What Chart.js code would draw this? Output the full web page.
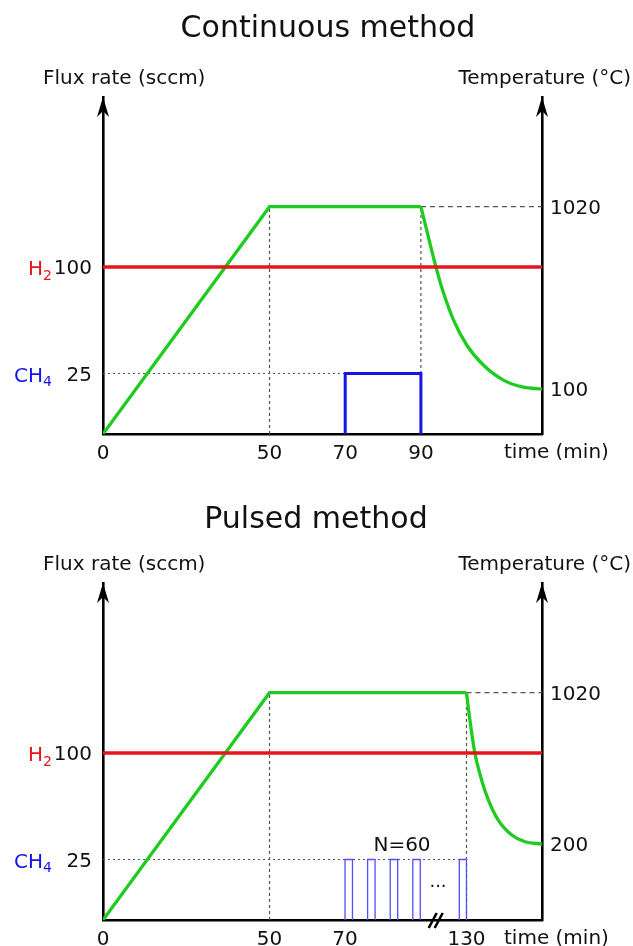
<!DOCTYPE html>
<html>
<head>
<meta charset="utf-8">
<script src="https://cdn.jsdelivr.net/npm/chart.js@4.4.1/dist/chart.umd.min.js"></script>
<style>
  html, body { margin: 0; padding: 0; background: #fff; }
  #wrap { position: relative; width: 633px; height: 946px; overflow: hidden; }
  .panel { position: absolute; left: 0; width: 633px; height: 460px; }
</style>
</head>
<body>
<div id="wrap">
  <div class="panel" style="top:0"><canvas id="contChart"></canvas></div>
  <div class="panel" style="top:486px"><canvas id="pulseChart"></canvas></div>
</div>
<script>
// ---- data: continuous method ----
var contRampTime = [0, 50, 90];
var contRampTemp = [25, 1020, 1020];
var contCoolTime = [90, 94.0, 95.9, 98.6, 102.1, 106.5, 111.8, 117.1, 122];
var contCoolTemp = [1020, 714, 589, 449, 322, 221, 145, 109, 100];
var contCh4Time = [70, 70, 90, 90];
var contCh4Flow = [0, 25, 25, 0];
var contTimeTicks = [0, 50, 70, 90];
var contTempTicks = [100, 1020];

// ---- data: pulsed method ----
var pulseRampTime = [0, 50, 130];
var pulseRampTemp = [25, 1020, 1020];
var pulseCoolTime = [130, 130.9, 132.2, 134.0, 135.8, 138.4, 142.0, 145.5, 150];
var pulseCoolTemp = [1020, 872, 695, 547, 438, 330, 249, 212, 200];
var pulseOn = [70, 71, 72, 73, 129.67];   // CH4 pulses drawn (N=60, middle ones hidden by the break)
var pulseOff = [70.33, 71.33, 72.33, 73.33, 130];
var pulseBreak = [74, 128.6];
var pulseTimeTicks = [0, 50, 70, 130];
var pulseTempTicks = [200, 1020];

// ---- common ----
var fluxTicks = [25, 100];
var h2Flow = 100;
var ch4Flow = 25;

var FONT = '"DejaVu Sans", Verdana, sans-serif';
var INK = '#111';
var RED = '#e8141b', BLUE = '#1414ea', GREEN = '#1fcb1f', PULSE = '#5050f5', GUIDE = '#555';

// piecewise linear lookup in a knot table [[value, fraction], ...]
function interp(knots, v, a, b) {
  for (var i = 1; i < knots.length; i++) {
    var k0 = knots[i - 1], k1 = knots[i];
    if (v <= k1[a] || i === knots.length - 1) {
      var t = (v - k0[a]) / (k1[a] - k0[a]);
      return k0[b] + t * (k1[b] - k0[b]);
    }
  }
}

// schematic axis: linear scale whose value->pixel mapping is piecewise
class SegmentedScale extends Chart.LinearScale {
  static id = 'segmented';
  static defaults = {};
  getPixelForValue(value) {
    if (value === null || isNaN(value)) return NaN;
    return this.getPixelForDecimal(interp(this.options.knots, value, 0, 1));
  }
  getValueForPixel(pixel) {
    return interp(this.options.knots, this.getDecimalForPixel(pixel), 1, 0);
  }
}
Chart.register(SegmentedScale);

function seg(xs, ys, axis, color, width, dash) {
  return {
    data: xs.map(function (x, i) { return { x: x, y: ys[i] }; }),
    yAxisID: axis,
    borderColor: color,
    borderWidth: width,
    borderDash: dash || [],
    pointRadius: 0,
    fill: false,
    tension: 0
  };
}

function species(ctx, main, sub, color, py) {
  ctx.fillStyle = color;
  ctx.textAlign = 'right';
  ctx.textBaseline = 'alphabetic';
  ctx.font = '14px ' + FONT;
  var sw = ctx.measureText(sub).width;
  ctx.fillText(sub, 52, py + 12.5);
  ctx.font = '20px ' + FONT;
  ctx.fillText(main, 52 - sw, py + 8);
}

function sketchPlugin(title, tx, ty, extra) {
  return {
    id: 'sketch',
    afterDraw: function (chart) {
      var ctx = chart.ctx, a = chart.chartArea;
      var yF = chart.scales.flux;
      ctx.save();
      ctx.fillStyle = INK;
      ctx.textBaseline = 'alphabetic';
      ctx.font = '30px ' + FONT;
      ctx.textAlign = 'center';
      ctx.fillText(title, tx, ty);
      ctx.font = '20px ' + FONT;
      ctx.textAlign = 'left';
      ctx.fillText('Flux rate (sccm)', 43, 84);
      ctx.textAlign = 'right';
      ctx.fillText('Temperature (°C)', 631, 84);
      ctx.textAlign = 'left';
      ctx.fillText('time (min)', 504, 458);
      // arrow heads on both vertical axes
      ctx.fillStyle = '#000';
      [a.left, a.right].forEach(function (px) {
        ctx.beginPath();
        ctx.moveTo(px, a.top);
        ctx.lineTo(px - 6, a.top + 20);
        ctx.lineTo(px, a.top + 14);
        ctx.lineTo(px + 6, a.top + 20);
        ctx.closePath();
        ctx.fill();
      });
      species(ctx, 'H', '2', RED, yF.getPixelForValue(h2Flow));
      species(ctx, 'CH', '4', BLUE, yF.getPixelForValue(ch4Flow));
      if (extra) extra(chart, ctx);
      ctx.restore();
    }
  };
}

function makePanel(id, p) {
  var tickFont = { family: FONT, size: 20 };
  var tEnd = p.coolTime[p.coolTime.length - 1];
  var T0 = p.rampTemp[0];
  var hold = p.rampTime[2];
  var datasets = [
    seg([0, tEnd], [h2Flow, h2Flow], 'flux', RED, 3.3)
  ].concat(p.ch4Sets).concat([
    seg(p.rampTime, p.rampTemp, 'temp', GREEN, 3.3),
    Object.assign(seg(p.coolTime, p.coolTemp, 'temp', GREEN, 3.3), { cubicInterpolationMode: 'monotone' }),
    seg([p.rampTime[1], p.rampTime[1]], [T0, p.rampTemp[1]], 'temp', GUIDE, 1.2, [3, 3]),
    seg([hold, hold], [T0, p.rampTemp[2]], 'temp', GUIDE, 1.2, [3, 3]),
    seg([hold, tEnd], [p.rampTemp[2], p.rampTemp[2]], 'temp', GUIDE, 1.2, [5, 4]),
    seg([0, p.ch4GuideEnd], [ch4Flow, ch4Flow], 'flux', GUIDE, 1.2, [2, 3])
  ]);

  new Chart(document.getElementById(id), {
    type: 'line',
    data: { datasets: datasets },
    options: {
      animation: false,
      responsive: true,
      maintainAspectRatio: false,
      devicePixelRatio: 1,
      events: [],
      layout: { padding: { top: 97, left: 0, right: 0, bottom: 0 } },
      plugins: { legend: { display: false }, tooltip: { enabled: false } },
      scales: {
        x: {
          type: 'segmented', min: 0, max: tEnd, knots: p.xKnots,
          grid: { display: false, drawTicks: false },
          border: { display: true, color: '#000', width: 2.6 },
          ticks: { font: tickFont, color: INK, padding: 8, maxRotation: 0, autoSkip: false,
                   callback: function (v) { return String(v); } },
          afterBuildTicks: function (s) { s.ticks = p.timeTicks.map(function (v) { return { value: v }; }); },
          afterFit: function (s) { s.height = 26; }
        },
        flux: {
          type: 'segmented', position: 'left', min: 0, max: 220,
          knots: [[0, 0], [25, 0.1795], [100, 0.4955], [220, 1]],
          grid: { display: false, drawTicks: false },
          border: { display: true, color: '#000', width: 2.6 },
          ticks: { font: tickFont, color: INK, padding: 11, labelOffset: 2,
                   callback: function (v) { return String(v); } },
          afterBuildTicks: function (s) { s.ticks = fluxTicks.map(function (v) { return { value: v }; }); },
          afterFit: function (s) { s.width = 103; }
        },
        temp: {
          type: 'segmented', position: 'right', min: 25, max: 1600, knots: p.tKnots,
          grid: { display: false, drawTicks: false },
          border: { display: true, color: '#000', width: 2.6 },
          ticks: { font: tickFont, color: INK, padding: 8, labelOffset: 2,
                   callback: function (v) { return String(v); } },
          afterBuildTicks: function (s) { s.ticks = p.tempTicks.map(function (v) { return { value: v }; }); },
          afterFit: function (s) { s.width = 91; }
        }
      }
    },
    plugins: [sketchPlugin(p.title, p.titleX, p.titleY, p.extra)]
  });
}

// continuous panel
makePanel('contChart', {
  title: 'Continuous method', titleX: 328, titleY: 37,
  rampTime: contRampTime, rampTemp: contRampTemp,
  coolTime: contCoolTime, coolTemp: contCoolTemp,
  ch4Sets: [seg(contCh4Time, contCh4Flow, 'flux', BLUE, 3)],
  ch4GuideEnd: contCh4Time[0],
  timeTicks: contTimeTicks, tempTicks: contTempTicks,
  xKnots: [[0, 0], [50, 0.3793], [122, 1]],
  tKnots: [[25, 0], [100, 0.1335], [1020, 0.6745], [1600, 1]]
});

// pulsed panel
makePanel('pulseChart', {
  title: 'Pulsed method', titleX: 316, titleY: 42,
  rampTime: pulseRampTime, rampTemp: pulseRampTemp,
  coolTime: pulseCoolTime, coolTemp: pulseCoolTemp,
  ch4Sets: pulseOn.map(function (on, i) {
    return seg([on, on, pulseOff[i], pulseOff[i]], [0, ch4Flow, ch4Flow, 0], 'flux', PULSE, 1.3);
  }),
  ch4GuideEnd: pulseOff[pulseOff.length - 1],
  timeTicks: pulseTimeTicks, tempTicks: pulseTempTicks,
  xKnots: [[0, 0], [50, 0.3793], [70, 0.5513], [74, 0.7572], [128.6, 0.7585], [130, 0.828], [150, 1]],
  tKnots: [[25, 0], [200, 0.2255], [1020, 0.6745], [1600, 1]],
  extra: function (chart, ctx) {
    var x = chart.scales.x, a = chart.chartArea;
    ctx.fillStyle = INK;
    ctx.textAlign = 'center';
    ctx.font = '20px ' + FONT;
    ctx.fillText('N=60', 402, 365);
    ctx.font = '18px ' + FONT;
    ctx.fillText('...', 438, 401);
    // axis break mark
    var bx = (x.getPixelForValue(pulseBreak[0]) + x.getPixelForValue(pulseBreak[1])) / 2;
    ctx.strokeStyle = '#000';
    ctx.lineWidth = 2.6;
    [-3, 3].forEach(function (d) {
      ctx.beginPath();
      ctx.moveTo(bx + d - 4, a.bottom + 8);
      ctx.lineTo(bx + d + 4, a.bottom - 7);
      ctx.stroke();
    });
  }
});
</script>
</body>
</html>
